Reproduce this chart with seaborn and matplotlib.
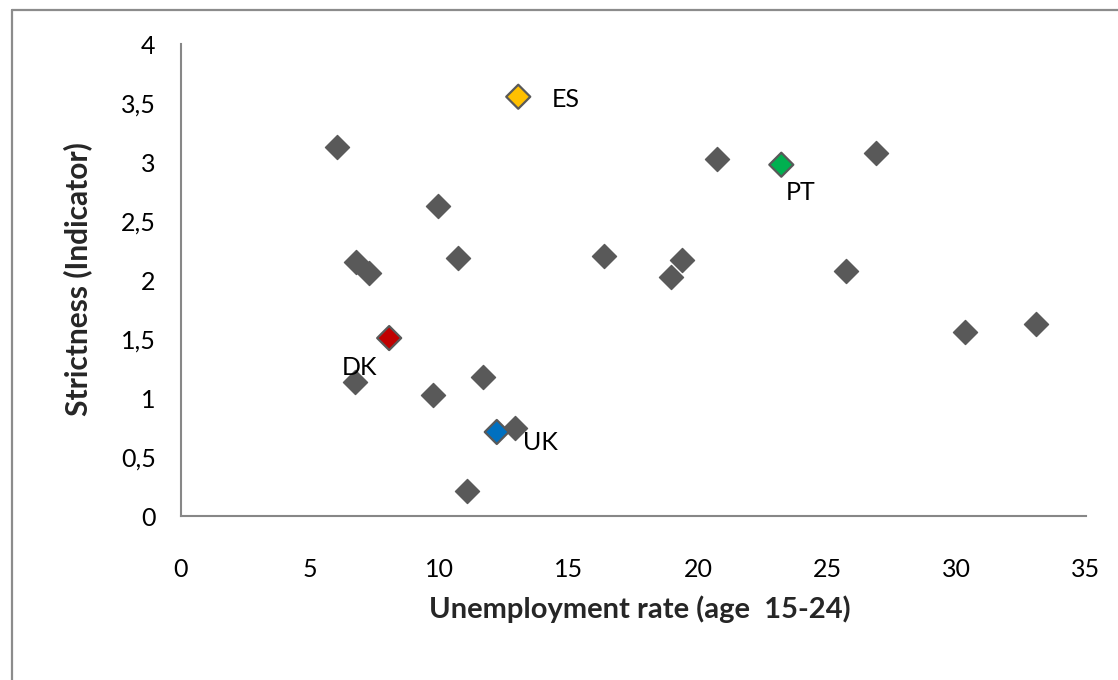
import matplotlib
matplotlib.use("Agg")
import matplotlib.pyplot as plt
import seaborn as sns
import pandas as pd
from matplotlib.lines import Line2D

# ---- data ----
countries = ["c1", "ES", "c3", "c4", "c5", "c6", "c7", "c8", "c9", "c10", "PT",
             "c12", "c13", "c14", "c15", "DK", "c17", "c18", "c19", "UK", "c21", "c22"]
unemployment = [6.04, 13.05, 9.96, 6.78, 7.29, 10.73, 16.38, 19.37, 18.95, 20.72, 23.22,
                26.88, 25.74, 30.32, 33.05, 8.06, 6.74, 9.76, 11.67, 12.22, 12.93, 11.06]
strictness = [3.125, 3.553, 2.625, 2.15, 2.063, 2.19, 2.20, 2.169, 2.028, 3.025, 2.977,
              3.073, 2.079, 1.556, 1.624, 1.508, 1.133, 1.025, 1.181, 0.712, 0.75, 0.212]
highlight = ["ES", "PT", "DK", "UK"]
highlight_colors = {"ES": "#FFC000", "PT": "#00B050", "DK": "#C00000", "UK": "#0070C0"}
x_ticks = [0, 5, 10, 15, 20, 25, 30, 35]
y_ticks = [0, 0.5, 1, 1.5, 2, 2.5, 3, 3.5, 4]
y_tick_labels = ["0", "0,5", "1", "1,5", "2", "2,5", "3", "3,5", "4"]
x_label = "Unemployment rate (age  15-24)"
y_label = "Strictness (Indicator)"

df = pd.DataFrame({"country": countries, "x": unemployment, "y": strictness})
df["group"] = [c if c in highlight else "other" for c in countries]

sns.set_style("white")
plt.rcParams["font.family"] = ["Lato", "DejaVu Sans"]

fig = plt.figure(figsize=(11.18, 6.8), dpi=100)
ax = fig.add_axes([180.7 / 1118, (680 - 516) / 680, (1086 - 180.7) / 1118, (516 - 44) / 680])

gray = "#595959"
palette = {"other": gray}
palette.update(highlight_colors)
others = df[df["group"] == "other"]
hl = df[df["group"] != "other"]
sns.scatterplot(data=others, x="x", y="y", marker="D", s=150, color=gray,
                edgecolor=gray, linewidth=1.0, ax=ax, legend=False, zorder=3)
sns.scatterplot(data=hl, x="x", y="y", hue="group", palette=palette, marker="D", s=150,
                edgecolor=gray, linewidth=1.6, ax=ax, legend=False, zorder=4)

offsets = {"ES": (24, -2), "PT": (3, -20), "DK": (-34, -21), "UK": (19, -7.5)}
for _, r in hl.iterrows():
    ax.annotate(r["country"], (r["x"], r["y"]), xytext=offsets[r["country"]],
                textcoords="offset points", ha="left", va="center", fontsize=18, color="black")

ax.set_xlim(0, 35)
ax.set_ylim(0, 4)
ax.set_xticks(x_ticks)
ax.set_xticklabels([str(t) for t in x_ticks])
ax.set_yticks(y_ticks)
ax.set_yticklabels(y_tick_labels)
ax.tick_params(axis="both", length=0, labelsize=18, colors="black")
ax.tick_params(axis="x", pad=30)
ax.tick_params(axis="y", pad=18)

for side in ["top", "right"]:
    ax.spines[side].set_visible(False)
for side in ["left", "bottom"]:
    ax.spines[side].set_color("#878787")
    ax.spines[side].set_linewidth(1.5)

ax.set_xlabel(x_label, fontsize=21, fontweight="bold", va="center")
ax.set_ylabel(y_label, fontsize=21.5, fontweight="bold", va="center")
ax.xaxis.set_label_coords(0.507, -0.197)
ax.yaxis.set_label_coords(-0.114, 0.502)

# outer chart frame (left and top visible)
fig.add_artist(Line2D([11.5 / 1118, 11.5 / 1118], [0, 1 - 10 / 680], color="#8c8c8c", lw=1.6,
                      transform=fig.transFigure))
fig.add_artist(Line2D([11.5 / 1118, 1], [1 - 10 / 680, 1 - 10 / 680], color="#8c8c8c", lw=1.6,
                      transform=fig.transFigure))

fig.savefig("out.png", dpi=100)
